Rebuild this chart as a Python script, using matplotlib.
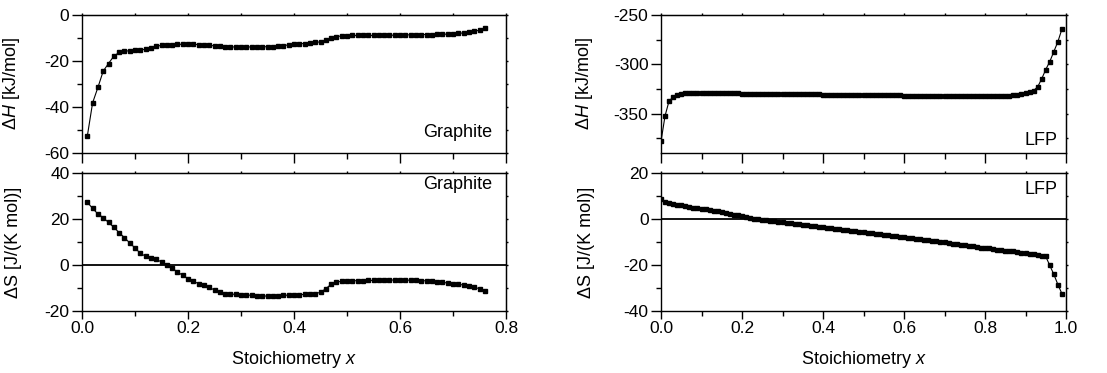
import matplotlib
matplotlib.use("Agg")
import matplotlib.pyplot as plt
from matplotlib.ticker import MultipleLocator, FormatStrFormatter

plt.rcParams["font.family"] = "Liberation Sans"
plt.rcParams["mathtext.fontset"] = "custom"
plt.rcParams["mathtext.rm"] = "Liberation Sans"
plt.rcParams["mathtext.it"] = "Liberation Sans:italic"
plt.rcParams["axes.unicode_minus"] = False

# graphite, x = 0.01 ... 0.76
x_gr = [0.01, 0.02, 0.03, 0.04, 0.05, 0.06, 0.07, 0.08, 0.09, 0.10,
        0.11, 0.12, 0.13, 0.14, 0.15, 0.16, 0.17, 0.18, 0.19, 0.20,
        0.21, 0.22, 0.23, 0.24, 0.25, 0.26, 0.27, 0.28, 0.29, 0.30,
        0.31, 0.32, 0.33, 0.34, 0.35, 0.36, 0.37, 0.38, 0.39, 0.40,
        0.41, 0.42, 0.43, 0.44, 0.45, 0.46, 0.47, 0.48, 0.49, 0.50,
        0.51, 0.52, 0.53, 0.54, 0.55, 0.56, 0.57, 0.58, 0.59, 0.60,
        0.61, 0.62, 0.63, 0.64, 0.65, 0.66, 0.67, 0.68, 0.69, 0.70,
        0.71, 0.72, 0.73, 0.74, 0.75, 0.76]
dH_gr = [-52.7, -38.2, -31.5, -24.4, -21.1, -17.9, -16.3, -15.8, -15.5, -15.3,
         -15.2, -14.9, -14.3, -13.6, -13.2, -13.0, -12.9, -12.8, -12.7, -12.7,
         -12.7, -12.9, -13.0, -13.2, -13.4, -13.6, -13.8, -13.9, -13.9, -13.9,
         -13.9, -13.9, -13.9, -13.8, -13.8, -13.7, -13.5, -13.3, -13.0, -12.8,
         -12.5, -12.4, -12.2, -11.9, -11.7, -11.0, -10.1, -9.4, -9.1, -9.0,
         -8.9, -8.9, -8.9, -8.9, -8.9, -8.8, -8.8, -8.8, -8.8, -8.7,
         -8.7, -8.6, -8.6, -8.5, -8.5, -8.5, -8.4, -8.4, -8.3, -8.2,
         -8.0, -7.8, -7.5, -7.1, -6.6, -5.6]
dS_gr = [27.3, 24.6, 22.2, 20.6, 18.5, 16.4, 14.1, 11.9, 9.6, 7.4,
         5.1, 3.8, 3.0, 2.5, 1.3, 0.0, -1.4, -3.0, -4.5, -5.9,
         -7.1, -8.1, -8.8, -9.7, -10.9, -11.9, -12.6, -12.6, -12.8, -12.9,
         -13.0, -13.2, -13.4, -13.5, -13.5, -13.5, -13.4, -13.2, -13.1, -13.0,
         -12.9, -12.8, -12.6, -12.4, -11.9, -10.3, -8.4, -7.4, -7.1, -7.0,
         -6.9, -6.8, -6.8, -6.7, -6.7, -6.6, -6.6, -6.6, -6.5, -6.5,
         -6.6, -6.6, -6.7, -6.8, -6.9, -7.1, -7.3, -7.6, -7.8, -8.1,
         -8.4, -8.7, -9.1, -9.7, -10.3, -11.2]

# LFP, x = 0.00 ... 0.99
x_lfp = [0.00, 0.01, 0.02, 0.03, 0.04, 0.05, 0.06, 0.07, 0.08, 0.09,
         0.10, 0.11, 0.12, 0.13, 0.14, 0.15, 0.16, 0.17, 0.18, 0.19,
         0.20, 0.21, 0.22, 0.23, 0.24, 0.25, 0.26, 0.27, 0.28, 0.29,
         0.30, 0.31, 0.32, 0.33, 0.34, 0.35, 0.36, 0.37, 0.38, 0.39,
         0.40, 0.41, 0.42, 0.43, 0.44, 0.45, 0.46, 0.47, 0.48, 0.49,
         0.50, 0.51, 0.52, 0.53, 0.54, 0.55, 0.56, 0.57, 0.58, 0.59,
         0.60, 0.61, 0.62, 0.63, 0.64, 0.65, 0.66, 0.67, 0.68, 0.69,
         0.70, 0.71, 0.72, 0.73, 0.74, 0.75, 0.76, 0.77, 0.78, 0.79,
         0.80, 0.81, 0.82, 0.83, 0.84, 0.85, 0.86, 0.87, 0.88, 0.89,
         0.90, 0.91, 0.92, 0.93, 0.94, 0.95, 0.96, 0.97, 0.98, 0.99]
dH_lfp = [-378.3, -352.3, -337.1, -333.4, -331.2, -330.1, -329.6, -329.4, -329.3, -329.3,
          -329.3, -329.3, -329.4, -329.4, -329.4, -329.5, -329.5, -329.5, -329.6, -329.6,
          -329.7, -329.7, -329.8, -329.8, -329.9, -329.9, -330.0, -330.0, -330.1, -330.1,
          -330.2, -330.2, -330.3, -330.3, -330.4, -330.4, -330.5, -330.5, -330.6, -330.6,
          -330.7, -330.7, -330.8, -330.8, -330.9, -330.9, -331.0, -331.0, -331.1, -331.1,
          -331.2, -331.2, -331.3, -331.3, -331.4, -331.4, -331.5, -331.5, -331.6, -331.6,
          -331.7, -331.7, -331.7, -331.8, -331.8, -331.8, -331.9, -331.9, -331.9, -332.0,
          -332.0, -332.0, -332.1, -332.1, -332.1, -332.1, -332.2, -332.2, -332.2, -332.2,
          -332.2, -332.2, -332.2, -332.1, -332.0, -331.9, -331.7, -331.4, -331.0, -330.4,
          -329.6, -328.5, -326.6, -322.9, -314.8, -305.3, -297.2, -287.1, -277.0, -264.2]
dS_lfp = [8.5, 7.2, 6.9, 6.5, 6.2, 5.9, 5.6, 5.3, 5.0, 4.8,
          4.5, 4.2, 3.9, 3.6, 3.3, 3.0, 2.6, 2.3, 1.9, 1.6,
          1.2, 0.9, 0.5, 0.2, -0.1, -0.4, -0.6, -0.8, -1.0, -1.2,
          -1.5, -1.7, -1.9, -2.1, -2.3, -2.5, -2.7, -2.9, -3.2, -3.4,
          -3.6, -3.8, -4.0, -4.2, -4.5, -4.7, -4.9, -5.1, -5.3, -5.6,
          -5.8, -6.0, -6.2, -6.4, -6.7, -6.9, -7.1, -7.3, -7.5, -7.8,
          -8.0, -8.2, -8.4, -8.6, -8.9, -9.1, -9.3, -9.5, -9.7, -10.0,
          -10.2, -10.4, -10.7, -10.9, -11.2, -11.4, -11.6, -11.9, -12.1, -12.4,
          -12.6, -12.8, -13.0, -13.3, -13.5, -13.7, -13.9, -14.1, -14.4, -14.6,
          -14.8, -15.1, -15.4, -15.7, -16.0, -16.3, -20.2, -24.1, -28.5, -32.5]

fig = plt.figure(figsize=(11.07, 3.73), dpi=100)
W, H = 1107.0, 373.0


def make_ax(x0, x1, y0, y1):
    return fig.add_axes([x0 / W, 1 - y1 / H, (x1 - x0) / W, (y1 - y0) / H])


ax_gh = make_ax(82, 506, 15, 153)
ax_gs = make_ax(82, 506, 173, 311)
ax_lh = make_ax(661, 1066, 15, 153)
ax_ls = make_ax(661, 1066, 173, 311)

line_kw = dict(color="black", lw=0.8, marker="s", markersize=2.8)
ax_gh.plot(x_gr, dH_gr, **line_kw)
ax_gs.plot(x_gr, dS_gr, **line_kw)
ax_lh.plot(x_lfp, dH_lfp, **line_kw)
ax_ls.plot(x_lfp, dS_lfp, **line_kw)

ax_gs.axhline(0, color="black", lw=1.3, zorder=1)
ax_ls.axhline(0, color="black", lw=1.3, zorder=1)

ax_gh.set_ylim(-60, 0)
ax_gs.set_ylim(-20, 40)
ax_lh.set_ylim(-390, -250)
ax_ls.set_ylim(-40, 20)
for ax in (ax_gh, ax_gs):
    ax.set_xlim(0, 0.8)
    ax.yaxis.set_major_locator(MultipleLocator(20))
    ax.yaxis.set_minor_locator(MultipleLocator(10))
for ax in (ax_lh, ax_ls):
    ax.set_xlim(0, 1.0)
ax_lh.yaxis.set_major_locator(MultipleLocator(50))
ax_lh.yaxis.set_minor_locator(MultipleLocator(25))
ax_ls.yaxis.set_major_locator(MultipleLocator(20))
ax_ls.yaxis.set_minor_locator(MultipleLocator(10))

for ax in (ax_gh, ax_gs, ax_lh, ax_ls):
    ax.xaxis.set_major_locator(MultipleLocator(0.2))
    ax.xaxis.set_minor_locator(MultipleLocator(0.1))
    ax.xaxis.set_major_formatter(FormatStrFormatter("%.1f"))
    ax.yaxis.set_major_formatter(FormatStrFormatter("%d"))
    for s in ax.spines.values():
        s.set_linewidth(1.0)
    ax.tick_params(which="both", direction="out", width=1.0, labelsize=12.5,
                   top=False, right=False, pad=2)
    ax.tick_params(axis="y", which="major", length=7)
    ax.tick_params(axis="y", which="minor", length=3.5)
    # short ticks on top and right
    sx = ax.secondary_xaxis("top")
    sx.xaxis.set_major_locator(MultipleLocator(0.1))
    sx.tick_params(which="both", direction="out", length=1.5, width=1.0, labeltop=False)
    sy = ax.secondary_yaxis("right")
    sy.yaxis.set_major_locator(ax.yaxis.get_minor_locator())
    sy.tick_params(which="both", direction="out", length=1.5, width=1.0, labelright=False)

for ax in (ax_gh, ax_lh):
    ax.tick_params(axis="x", which="major", length=7, labelbottom=False)
    ax.tick_params(axis="x", which="minor", length=4)
for ax in (ax_gs, ax_ls):
    ax.tick_params(axis="x", which="major", length=5.5)
    ax.tick_params(axis="x", which="minor", length=3.5)
    ax.set_xlabel("Stoichiometry $\\mathit{x}$", fontsize=13)
    ax.xaxis.set_label_coords(0.5, -0.275)

ax_gh.set_ylabel("Δ$\\mathit{H}$ [kJ/mol]", fontsize=13)
ax_lh.set_ylabel("Δ$\\mathit{H}$ [kJ/mol]", fontsize=13)
ax_gs.set_ylabel("ΔS [J/(K mol)]", fontsize=13)
ax_ls.set_ylabel("ΔS [J/(K mol)]", fontsize=13)
for ax in (ax_gh, ax_gs):
    ax.yaxis.set_label_coords(-0.1415, 0.5)
for ax in (ax_lh, ax_ls):
    ax.yaxis.set_label_coords(-0.163, 0.5)

ax_gh.text(0.967, 0.145, "Graphite", transform=ax_gh.transAxes, ha="right", va="center", fontsize=13)
ax_gs.text(0.967, 0.92, "Graphite", transform=ax_gs.transAxes, ha="right", va="center", fontsize=13)
ax_lh.text(0.98, 0.09, "LFP", transform=ax_lh.transAxes, ha="right", va="center", fontsize=13)
ax_ls.text(0.98, 0.88, "LFP", transform=ax_ls.transAxes, ha="right", va="center", fontsize=13)

fig.savefig("out.png", dpi=100)
